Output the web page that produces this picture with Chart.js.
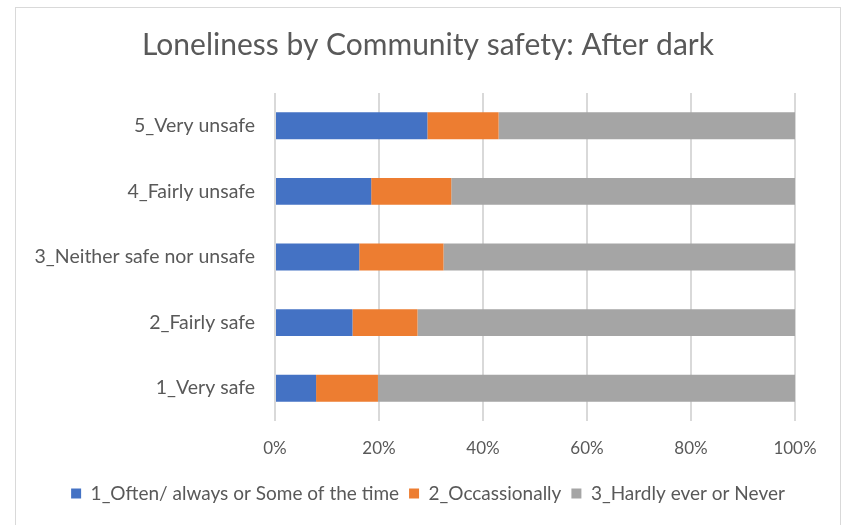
<!DOCTYPE html>
<html>
<head>
<meta charset="utf-8">
<script src="https://cdn.jsdelivr.net/npm/chart.js@4.4.0/dist/chart.umd.min.js"></script>
<style>
  html, body { margin: 0; padding: 0; background: #fff; }
  #myChart { display: block; }
</style>
</head>
<body>
<canvas id="myChart" width="843" height="525"></canvas>
<script>
  // categories top to bottom
  const categories = [
    "5_Very unsafe",
    "4_Fairly unsafe",
    "3_Neither safe nor unsafe",
    "2_Fairly safe",
    "1_Very safe",
  ];
  const seriesNames = [
    "1_Often/ always or Some of the time",
    "2_Occassionally",
    "3_Hardly ever or Never",
  ];
  // percentages
  const often = [29.3, 18.5, 16.2, 14.9, 7.9];
  const occasionally = [13.7, 15.4, 16.2, 12.5, 11.9];
  const hardly = [57.0, 66.1, 67.6, 72.6, 80.2];
  const xTicks = [0, 20, 40, 60, 80, 100];

  const FONT = "Lato";
  const GREY_TEXT = "#595959";

  // light outer frame like the original chart box
  const framePlugin = {
    id: "frame",
    beforeDraw(chart) {
      const c = chart.ctx;
      c.save();
      c.fillStyle = "#fff";
      c.fillRect(0, 0, chart.width, chart.height);
      c.strokeStyle = "#d9d9d9";
      c.lineWidth = 1;
      c.strokeRect(15.5, 7.5, 825, 530);
      c.restore();
    },
    // original centres title + legend a bit right of the canvas middle
    afterLayout(chart) {
      if (chart.titleBlock) chart.titleBlock.left = 61;
      if (chart.legend) chart.legend.left = 61;
    },
  };

  var ctx = document.getElementById("myChart").getContext("2d");
  var chart = new Chart(ctx, {
    type: "bar",
    data: {
      labels: categories,
      datasets: [
        { label: seriesNames[0], data: often, backgroundColor: "#4472c4" },
        { label: seriesNames[1], data: occasionally, backgroundColor: "#ed7d31" },
        { label: seriesNames[2], data: hardly, backgroundColor: "#a5a5a5" },
      ],
    },
    options: {
      indexAxis: "y",
      responsive: false,
      animation: false,
      maintainAspectRatio: false,
      devicePixelRatio: 1,
      datasets: {
        bar: { barPercentage: 0.82, categoryPercentage: 0.5 },
      },
      layout: { padding: { left: 16, right: 48, top: 0, bottom: 12 } },
      plugins: {
        title: {
          display: true,
          text: "Loneliness by Community safety: After dark",
          color: GREY_TEXT,
          font: { family: FONT, size: 30, weight: "normal" },
          padding: { top: 27, bottom: 30 },
        },
        legend: {
          position: "bottom",
          labels: {
            color: GREY_TEXT,
            font: { family: FONT, size: 19 },
            boxWidth: 10,
            boxHeight: 10,
            padding: 10,
          },
        },
        tooltip: { enabled: false },
      },
      scales: {
        x: {
          stacked: true,
          min: 0,
          max: 100,
          afterBuildTicks: (axis) => {
            axis.ticks = xTicks.map((v) => ({ value: v }));
          },
          afterFit: (axis) => {
            axis.height = 53;
          },
          ticks: {
            callback: (v) => v + "%",
            color: GREY_TEXT,
            font: { family: FONT, size: 17 },
            padding: 17,
            maxRotation: 0,
          },
          grid: { color: "#d9d9d9", lineWidth: 2, drawTicks: false },
          border: { display: false },
        },
        y: {
          stacked: true,
          afterFit: (axis) => {
            axis.width = 259;
          },
          ticks: {
            color: GREY_TEXT,
            font: { family: FONT, size: 19.5 },
            padding: 20,
          },
          grid: { display: false, drawTicks: false },
          border: { display: false },
        },
      },
    },
    plugins: [framePlugin],
  });
</script>
</body>
</html>
